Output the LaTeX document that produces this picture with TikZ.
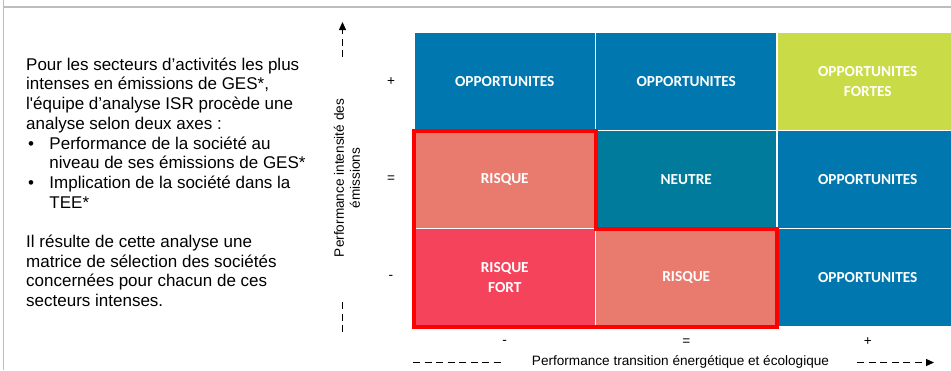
\documentclass[tikz,border=0pt]{standalone}
\usepackage{fontspec}
\setmainfont{Liberation Sans}
\newfontfamily\cellfont{Carlito}
\usetikzlibrary{calc, positioning, arrows.meta}
\definecolor{oppblue}{HTML}{0077AF}
\definecolor{oppgreen}{HTML}{C9DC47}
\definecolor{riskpink}{HTML}{E97A6E}
\definecolor{riskred}{HTML}{F4435A}
\definecolor{neutralteal}{HTML}{007B9B}
\definecolor{framegray}{HTML}{BDBDBD}
\tikzset{
     matrix cell/.style={rectangle, minimum width=181.5pt, minimum height=98pt,
        draw=white, line width=1.5pt, outer sep=0pt, inner sep=0pt,
        text=white, align=center, font=\cellfont\bfseries\fontsize{15.3}{20}\selectfont},
     axis text/.style={inner sep=0pt, font=\fontsize{13.6}{16}\selectfont},
     axis line/.style={line width=1.2pt, dash pattern=on 7pt off 4.5pt},
     risk frame/.style={draw=red, line width=4pt, line join=miter},
}

\begin{document}
\begin{tikzpicture}[x=1pt, y=-1pt]

\useasboundingbox (0,0) rectangle (951,370);
\draw[framegray, line width=1.5pt] (3.7,0) -- (3.7,370);
\draw[framegray, line width=1.5pt] (3.7,7) -- (951,7);

\node[anchor=north west, inner sep=0pt, align=left, font=\fontsize{17}{19.7}\selectfont] (intro) at (26,57.5) {
Pour les secteurs d’activités les plus\\
intenses en émissions de GES*,\\
l\textquotesingle équipe d’analyse ISR procède une\\
analyse selon deux axes :\\
\makebox[23.3pt][l]{\hspace{2pt}•}Performance de la société au\\
\hspace*{23.3pt}niveau de ses émissions de GES*\\
\makebox[23.3pt][l]{\hspace{2pt}•}Implication de la société dans la\\
\hspace*{23.3pt}TEE*\\[19.7pt]
Il résulte de cette analyse une\\
matrice de sélection des sociétés\\
concernées pour chacun de ces\\
secteurs intenses.};

\foreach \row/\col/\boxcolor/\boxtext in {
    1/1/oppblue/OPPORTUNITES, 1/2/oppblue/OPPORTUNITES, 1/3/oppgreen/{OPPORTUNITES\\FORTES},
    2/1/riskpink/RISQUE, 2/2/neutralteal/NEUTRE, 2/3/oppblue/OPPORTUNITES,
    3/1/riskred/{RISQUE\\FORT}, 3/2/riskpink/RISQUE, 3/3/oppblue/OPPORTUNITES}{
    \node[matrix cell, fill=\boxcolor] (b\row\col) at ({414+181.5*(\col-0.5)}, {32.5+98*(\row-0.5)}) {\boxtext};
}

\draw[risk frame] (b21.north west) -- (b21.north east) -- (b32.north west) -- (b32.north east)
    -- (b32.south east) -- (b31.south west) -- cycle;

\foreach \tick [count=\x] in {+,=,-}{
    \node[axis text] (ytick\x) at (391, {32.5+98*(\x-0.5)}) {\tick};
}
\foreach \tick [count=\x] in {-,=,+}{
    \node[axis text] (xtick\x) at ({414+181.5*(\x-0.5)}, 342) {\tick};
}

\node[axis text, rotate=90, align=center] (ylabel) at (347,178) {Performance intensité des\\émissions};
\node[axis text] (xlabel) at (680.5,362) {Performance transition énergétique et écologique};

\coordinate (ylow) at (342.5,332);
\coordinate (ylowend) at (342.5,302);
\coordinate (yhighstart) at (342.5,57);
\coordinate (yhigh) at (342.5,22);
\coordinate (xleft) at (413,362.5);
\coordinate (xleftend) at (502,362.5);
\coordinate (xrightstart) at (857,362.5);
\coordinate (xright) at (934,362.5);

\draw[axis line] (ylow) -- (ylowend);
\draw[axis line, -{Triangle[length=8pt, width=7pt]}] (yhighstart) -- (yhigh);
\draw[axis line] (xleft) -- (xleftend);
\draw[axis line, -{Triangle[length=8pt, width=7pt]}] (xrightstart) -- (xright);

\end{tikzpicture}
\end{document}
